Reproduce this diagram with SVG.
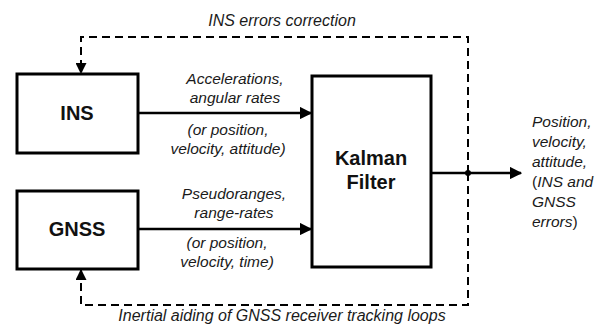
<svg xmlns="http://www.w3.org/2000/svg" width="609" height="329" viewBox="0 0 609 329">
  <style>
    .box { fill: #ffffff; stroke: #000000; stroke-width: 3; }
    .title { font-family: "Liberation Sans", Arial, sans-serif; font-weight: bold; font-size: 20px; fill: #111111; text-anchor: middle; }
    .lbl { font-family: "Liberation Sans", Arial, sans-serif; font-style: italic; font-size: 15.5px; fill: #1a1a1a; }
    .loop { font-size: 16px; }
    .mid { text-anchor: middle; }
    .up { font-style: normal; }
    .flow { fill: none; stroke: #000000; stroke-width: 2.5; }
    .aid { fill: none; stroke: #000000; stroke-width: 2; stroke-dasharray: 8 5; }
  </style>
  <defs>
    <marker id="solidHead" viewBox="0 0 10 10" refX="9" refY="5" markerWidth="5" markerHeight="5" markerUnits="strokeWidth" orient="auto">
      <path d="M0,0 L10,5 L0,10 Z" fill="#000000"/>
    </marker>
    <marker id="dashHead" viewBox="0 0 10 10" refX="9" refY="5" markerWidth="5.5" markerHeight="5.5" markerUnits="strokeWidth" orient="auto">
      <path d="M0,0 L10,5 L0,10 Z" fill="#000000"/>
    </marker>
  </defs>

  <rect width="609" height="329" fill="#ffffff"/>

  <!-- connectors -->
  <g id="connectors">
    <line class="flow" x1="138" y1="113" x2="311" y2="113" marker-end="url(#solidHead)"/>
    <line class="flow" x1="138" y1="229" x2="311" y2="229" marker-end="url(#solidHead)"/>
    <line class="flow" x1="431" y1="173" x2="521" y2="173" marker-end="url(#solidHead)"/>
    <!-- feedback to INS -->
    <path class="aid" d="M468,173 L468,37 L81,37 L81,73" marker-end="url(#dashHead)"/>
    <!-- aiding of GNSS tracking loops -->
    <path class="aid" d="M468,173 L468,305 L81,305 L81,270" marker-end="url(#dashHead)"/>
    <circle cx="468" cy="173" r="3" fill="#000000"/>

    <text class="lbl loop mid" x="282" y="26">INS errors correction</text>
    <text class="lbl loop mid" x="282" y="321">Inertial aiding of GNSS receiver tracking loops</text>

    <text class="lbl mid" x="235" y="84">Accelerations,</text>
    <text class="lbl mid" x="235" y="103">angular rates</text>
    <text class="lbl mid" x="228" y="135">(or position,</text>
    <text class="lbl mid" x="228" y="154">velocity, attitude)</text>

    <text class="lbl mid" x="234" y="199">Pseudoranges,</text>
    <text class="lbl mid" x="234" y="218">range-rates</text>
    <text class="lbl mid" x="227" y="248">(or position,</text>
    <text class="lbl mid" x="227" y="267">velocity, time)</text>

    <text class="lbl" x="532" y="127">Position,</text>
    <text class="lbl" x="532" y="147">velocity,</text>
    <text class="lbl" x="532" y="167">attitude,</text>
    <text class="lbl" x="532" y="187"><tspan class="up">(</tspan>INS and</text>
    <text class="lbl" x="532" y="207">GNSS</text>
    <text class="lbl" x="532" y="227">errors<tspan class="up">)</tspan></text>
  </g>

  <g id="ins">
    <rect class="box" x="17" y="74" width="121" height="79"/>
    <text class="title" x="77" y="120">INS</text>
  </g>

  <g id="gnss">
    <rect class="box" x="17" y="191" width="121" height="78"/>
    <text class="title" x="77" y="236">GNSS</text>
  </g>

  <g id="kalman">
    <rect class="box" x="312" y="76" width="119" height="191"/>
    <text class="title" x="371" y="165">Kalman</text>
    <text class="title" x="371" y="189">Filter</text>
  </g>
</svg>
